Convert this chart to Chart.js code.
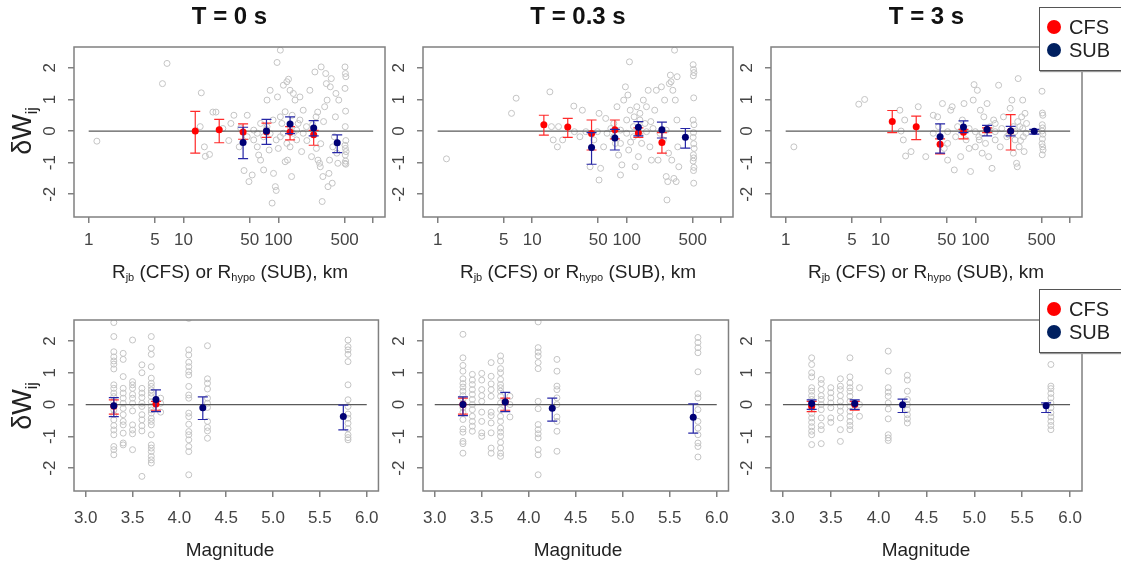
<!DOCTYPE html>
<html>
<head>
<meta charset="utf-8">
<script src="https://cdn.jsdelivr.net/npm/chart.js@4.4.1/dist/chart.umd.min.js"></script>
<style>
  body { margin: 0; background: #fff; width: 1121px; height: 568px; overflow: hidden; position: relative;
         font-family: "Liberation Sans", Arial, sans-serif; }
  canvas { position: absolute; }
  .lbl { position: absolute; color: #222; font-size: 19px; white-space: nowrap; transform: translate(-50%, -50%); }
  .ylab { font-size: 27px; transform: translate(-50%, -50%) rotate(-90deg); }
  .lbl sub { font-size: 58%; vertical-align: -0.35em; }
  .legend { position: absolute; left: 1039px; width: 100px; height: 62px; background: #fff;
            border: 1.5px solid #555; box-shadow: 1px 1px 1px #999; }
  .legend div { position: absolute; left: 29px; font-size: 20px; color: #222; line-height: 20px; }
  .legend span { position: absolute; left: -22px; top: 3px; width: 14px; height: 14px; border-radius: 50%; }
</style>
</head>
<body>
<canvas id="p1"></canvas><canvas id="p2"></canvas><canvas id="p3"></canvas>
<canvas id="p4"></canvas><canvas id="p5"></canvas><canvas id="p6"></canvas>

<div class="lbl" style="left:230px;top:272px">R<sub>jb</sub> (CFS) or R<sub>hypo</sub> (SUB), km</div>
<div class="lbl" style="left:578px;top:272px">R<sub>jb</sub> (CFS) or R<sub>hypo</sub> (SUB), km</div>
<div class="lbl" style="left:926px;top:272px">R<sub>jb</sub> (CFS) or R<sub>hypo</sub> (SUB), km</div>
<div class="lbl" style="left:230px;top:550px">Magnitude</div>
<div class="lbl" style="left:578px;top:550px">Magnitude</div>
<div class="lbl" style="left:926px;top:550px">Magnitude</div>
<div class="lbl ylab" style="left:24px;top:131px">&delta;W<sub>ij</sub></div>
<div class="lbl ylab" style="left:24px;top:406px">&delta;W<sub>ij</sub></div>

<div class="legend" style="top:7px">
  <div style="top:9px"><span style="background:#ff0000"></span>CFS</div>
  <div style="top:32px"><span style="background:#002060"></span>SUB</div>
</div>
<div class="legend" style="top:289px">
  <div style="top:9px"><span style="background:#ff0000"></span>CFS</div>
  <div style="top:32px"><span style="background:#002060"></span>SUB</div>
</div>

<script>
// ---------------------------------------------------------------------------
// data
// ---------------------------------------------------------------------------
const periods = ['T = 0 s', 'T = 0.3 s', 'T = 3 s'];

const distTicks = [1, 5, 10, 50, 100, 500, 1000];
const distTickLabels = ['1', '5', '10', '50', '100', '500', ''];
const magTicks = [3.0, 3.5, 4.0, 4.5, 5.0, 5.5, 6.0];
const residTicks = [-2, -1, 0, 1, 2];

const distBinsCfs = [13.3, 23.8, 42.5, 75, 133, 236];
const distBinsSub = [42.5, 75, 133, 236, 418];
const magBinsCfs = [3.3, 3.75];
const magBinsSub = [3.3, 3.75, 4.25, 5.75];

// bin statistics: [mean, lower, upper]
const cfsDistT0 = [[0.0, -0.70, 0.62], [0.04, -0.37, 0.37], [-0.03, -0.26, 0.23], [-0.02, -0.20, 0.25], [-0.03, -0.28, 0.14], [-0.12, -0.45, 0.02]];
const subDistT0 = [[-0.36, -0.87, 0.12], [0.0, -0.42, 0.37], [0.22, -0.08, 0.45], [0.10, -0.15, 0.33], [-0.37, -0.68, -0.12]];
const cfsDistT03 = [[0.20, -0.13, 0.50], [0.13, -0.20, 0.40], [-0.08, -0.60, 0.35], [0.04, -0.25, 0.35], [-0.06, -0.20, 0.10], [-0.36, -0.70, -0.05]];
const subDistT03 = [[-0.52, -1.05, -0.05], [-0.22, -0.60, 0.05], [0.12, -0.15, 0.30], [0.04, -0.22, 0.28], [-0.20, -0.54, 0.08]];
const cfsDistT3 = [[0.30, -0.05, 0.65], [0.14, -0.27, 0.47], [-0.42, -0.72, -0.25], [-0.04, -0.25, 0.05], [0.05, -0.05, 0.10], [0.0, -0.60, 0.52]];
const subDistT3 = [[-0.18, -0.70, 0.23], [0.13, -0.05, 0.32], [0.05, -0.15, 0.18], [0.0, -0.15, 0.15], [-0.01, -0.10, 0.05]];

const cfsMagT0 = [[-0.05, -0.30, 0.15], [0.02, -0.18, 0.10]];
const subMagT0 = [[-0.04, -0.38, 0.22], [0.16, -0.22, 0.46], [-0.10, -0.47, 0.24], [-0.38, -0.80, -0.02]];
const cfsMagT03 = [[0.0, -0.30, 0.20], [0.08, -0.18, 0.20]];
const subMagT03 = [[0.0, -0.35, 0.24], [0.08, -0.22, 0.38], [-0.12, -0.52, 0.20], [-0.40, -0.90, 0.02]];
const cfsMagT3 = [[-0.05, -0.22, 0.10], [0.0, -0.18, 0.10]];
const subMagT3 = [[0.03, -0.15, 0.15], [0.03, -0.15, 0.15], [-0.01, -0.25, 0.17], [-0.04, -0.25, 0.05]];

// individual residuals vs distance: [km, residual]
const residDistT0 = [
  [1.22,-0.32],[6.0,1.5],[6.7,2.14],[15.4,1.21],[15,0.14],[16.6,-0.5],[17,-0.8],[18.8,-0.74],[20.4,0.6],[22,0.6],
  [26,0.08],[31.6,0.24],[34,0.5],[38.7,-0.5],[43.5,-1.25],[47,0.5],[49,-1.6],[53,-1.39],[55,0.03],[60,-0.5],
  [62,-0.76],[65,-0.92],[70,-1.23],[70,-0.18],[76,0.98],[80,-0.6],[82,1.29],[86,-2.28],[89,-1.34],[93,-1.76],
  [95,-1.88],[97,2.17],[98,1.08],[105,0.45],[109,0.24],[113,1.45],[118,0.61],[123,1.56],[128,1.64],[105,2.56],
  [133,1.29],[133,-0.5],[138,-1.44],[118,-0.97],[125,-0.92],[144,1.19],[150,0.98],[156,-0.28],[162,0.24],[169,1.08],
  [176,-0.65],[183,0.66],[198,0.14],[215,1.29],[224,-0.81],[243,1.87],[250,0.45],[252,-0.55],[262,-0.92],[272,-1.02],
  [277,-1.13],[283,2.03],[290,-2.23],[295,-1.44],[308,0.77],[316,1.82],[321,1.5],[327,0.98],[334,-1.76],[342,-1.34],
  [347,-0.92],[353,1.4],[362,1.66],[370,-1.65],[375,-0.5],[390,-0.18],[400,0.45],[405,1.19],[414,-0.7],[424,-1.02],
  [434,0.98],[505,2.03],[510,1.82],[515,1.72],[505,1.35],[512,0.63],[508,0.14],[515,-0.3],[505,-0.45],[510,-0.55],
  [518,-0.65],[508,-0.76],[512,-0.95],[505,-1.02],[515,-1.05],[75,0.05],[82,-0.08],[95,-0.28],[105,-0.18],[113,-0.07],
  [123,-0.39],[133,0.14],[144,-0.07],[156,0.03],[169,0.35],[183,-0.07],[55,-0.28],[65,0.24],[76,0.14],[60,-0.07],
  [47,-0.18],[40,0.1],[30,-0.3],[88,0.35],[100,-0.55],[140,0.5],[200,-0.3],[230,0.2],[280,-0.4],[300,0.3],[260,0.6]
];
const residDistT03 = [
  [1.24,-0.88],[6.05,0.56],[6.77,1.04],[15.4,1.24],[16,0.14],[16.7,-0.28],[18.5,-0.5],[27.6,0.79],[34,0.66],[37,-0.02],
  [41,-1.13],[51,0.56],[53,-1.18],[51,-1.55],[57,-0.5],[62,-0.07],[68,0.08],[76,-0.39],[79,0.77],[82,-0.76],
  [86,-1.39],[89,-1.07],[93,0.98],[97,1.4],[100,0.35],[103,1.14],[105,-0.6],[109,0.66],[107,2.19],[118,-0.18],
  [120,0.45],[123,-1.13],[128,0.77],[133,-0.81],[138,0.56],[144,-0.39],[150,0.98],[156,0.24],[162,0.77],[169,1.29],
  [176,-0.5],[183,-0.92],[198,0.66],[206,1.29],[215,-0.92],[233,1.4],[243,-0.28],[252,0.98],[262,-1.44],[267,-2.18],
  [272,-1.6],[277,-0.7],[283,1.5],[290,1.77],[295,1.56],[300,-0.92],[308,1.29],[316,-1.5],[321,2.56],[327,0.98],
  [334,-1.6],[342,1.72],[347,-0.5],[356,-1.13],[340,0.35],[505,2.1],[510,1.95],[515,1.85],[508,1.75],[512,1.05],
  [505,0.35],[515,0.2],[510,-0.05],[505,-0.2],[512,-0.4],[518,-0.55],[508,-0.75],[512,-0.85],[505,-0.95],[515,-1.15],
  [510,-1.25],[512,-1.65],[49,-0.02],[73,-0.18],[86,0.03],[100,-0.07],[118,0.14],[138,-0.12],[162,-0.02],[190,0.08],
  [225,-0.07],[262,0.03],[86,-0.39],[138,0.35],[73,0.24],[45,-0.28],[32,-0.18],[28,-0.02],[21,-0.28],[19,0.14],
  [60,0.4],[110,-0.35],[180,0.3]
];
const residDistT3 = [
  [1.22,-0.5],[5.9,0.85],[6.8,1.0],[16,0.66],[16.5,0.0],[17.4,-0.28],[18,0.35],[18.4,-0.79],[21,-0.65],[25,0.77],
  [30,-0.81],[36,0.5],[40,0.45],[45,0.87],[47,-0.55],[51,-0.92],[55,0.66],[57,0.77],[60,-1.23],[65,0.14],
  [70,-0.81],[76,0.87],[80,-0.28],[86,-0.55],[89,-1.28],[95,0.98],[97,1.47],[100,-0.5],[105,1.29],[109,-0.18],
  [113,0.66],[118,-0.7],[123,0.45],[128,-0.39],[133,0.87],[138,-0.81],[144,0.14],[150,-1.18],[156,0.35],[162,-0.28],
  [176,1.45],[183,-0.5],[198,0.45],[215,-0.18],[233,0.72],[243,0.98],[252,-0.7],[262,-0.28],[272,-1.02],[277,-1.13],
  [283,1.66],[290,-0.5],[295,0.14],[308,0.45],[316,0.98],[321,-0.18],[327,-0.65],[334,0.56],[342,-0.07],[347,0.24],
  [505,1.26],[510,0.57],[515,0.5],[508,0.2],[512,0.1],[505,0.0],[515,-0.1],[510,-0.25],[505,-0.4],[512,-0.5],
  [518,-0.6],[508,-0.75],[36,-0.07],[41,0.14],[51,-0.02],[62,-0.18],[73,0.03],[86,0.08],[100,-0.02],[118,-0.07],
  [138,0.03],[162,-0.02],[190,0.08],[225,-0.12],[262,-0.02],[316,0.08],[51,-0.39],[73,0.35],[110,-0.28],[162,0.24],
  [252,0.14],[300,-0.3],[280,0.3]
];

// individual residuals vs magnitude, grouped by event magnitude: [M, [residuals]]
const residMagT0 = [
  [3.3, [2.58,2.14,1.66,1.5,1.37,1.27,1.12,0.62,0.51,0.36,0.25,0.09,-0.03,-0.17,-0.32,-0.48,-0.66,-0.8,-0.95,-1.32,-1.42,-1.58]],
  [3.4, [1.61,1.42,0.88,0.51,0.36,0.2,0.04,-0.12,-0.32,-0.53,-0.64,-0.9,-1.21,-1.27]],
  [3.5, [2.03,0.72,0.62,0.51,0.32,0.2,0.04,-0.2,-0.64,-0.8,-0.92,-1.42]],
  [3.6, [1.25,1.0,0.51,0.36,0.22,0.04,-0.06,-0.32,-0.48,-0.67,-0.83,-2.26]],
  [3.7, [2.14,1.77,1.58,1.19,0.83,0.67,0.57,0.46,0.36,0.25,0.09,-0.06,-0.17,-0.27,-0.43,-0.53,-0.64,-0.95,-1.27,-1.37,-1.48,-1.63,-1.74,-1.84]],
  [3.8, [0.2,0.04,-0.24]],
  [4.1, [2.71,1.72,1.56,1.33,1.19,1.04,0.93,0.57,0.3,0.2,-0.27,-0.38,-0.62,-0.85,-0.95,-1.11,-1.32,-1.48,-2.21]],
  [4.3, [1.85,0.81,0.67,0.49,0.2,0.04,-0.09,-0.53,-0.72,-0.83,-1.06]],
  [5.8, [2.03,1.82,1.72,1.58,1.35,0.62,0.15,-0.06,-0.3,-0.43,-0.59,-0.76,-0.95,-1.04,-1.11]]
];
const residMagT03 = [
  [3.3, [2.21,1.47,1.23,1.05,0.81,0.66,0.55,0.42,0.28,0.16,0.05,-0.1,-0.24,-0.47,-0.77,-0.87,-1.16,-1.23,-1.53]],
  [3.4, [0.95,0.77,0.63,0.47,0.32,0.16,0.0,-0.16,-0.37,-0.53,-0.68,-0.84]],
  [3.5, [0.98,0.77,0.47,0.28,0.1,-0.24,-0.53,-0.89,-1.0]],
  [3.6, [1.32,0.89,0.65,0.47,0.26,-0.24,-0.35,-0.58,-0.89,-1.37,-1.53]],
  [3.7, [1.53,1.37,1.13,1.0,0.79,0.63,0.53,0.42,0.26,0.05,-0.16,-0.37,-0.53,-0.74,-0.87,-1.0,-1.19,-1.37,-1.53,-1.63]],
  [3.8, [0.26,0.0,-0.39]],
  [4.1, [2.6,1.79,1.65,1.53,1.32,1.13,0.1,-0.13,-0.63,-0.79,-0.92,-1.05,-1.42,-1.58,-2.21]],
  [4.3, [1.42,1.05,0.58,0.47,0.21,0.0,-0.39,-0.53,-0.84,-1.47]],
  [5.8, [2.11,1.95,1.79,1.63,1.03,0.34,0.21,-0.16,-0.53,-0.74,-0.95,-1.21,-1.32,-1.65]]
];
const residMagT3 = [
  [3.3, [1.47,1.26,1.0,0.87,0.53,0.42,0.28,0.16,0.03,-0.14,-0.28,-0.42,-0.56,-0.7,-0.84,-0.95,-1.26]],
  [3.4, [0.79,0.66,0.47,0.28,0.16,0.0,-0.16,-0.42,-0.66,-0.79,-1.23]],
  [3.5, [0.53,0.37,0.21,0.05,-0.1,-0.42,-0.56]],
  [3.6, [0.81,0.58,0.47,0.28,0.1,-0.05,-0.21,-0.42,-0.79,-1.16]],
  [3.7, [1.47,0.87,0.68,0.53,0.42,0.26,0.1,-0.05,-0.21,-0.37,-0.53,-0.66,-0.79]],
  [3.8, [0.53,0.0,-0.37]],
  [4.1, [1.68,1.05,0.53,0.39,0.26,0.05,-0.14,-0.45,-0.95,-1.05,-1.13]],
  [4.3, [0.92,0.77,0.42,0.16,0.0,-0.16,-0.32,-0.45,-0.58]],
  [5.8, [1.26,0.58,0.5,0.35,0.21,0.05,-0.1,-0.26,-0.39,-0.53,-0.66,-0.79]]
];

// ---------------------------------------------------------------------------
// drawing helpers
// ---------------------------------------------------------------------------
const FONT = '"Liberation Sans", Arial, sans-serif';
const RED = '#ff0000';
const NAVY = '#000075';

// vertical bars with caps for the bin statistics
const errorBars = {
    id: 'errorBars',
    beforeDatasetDraw(chart, args) {
        const ds = chart.data.datasets[args.index];
        if (!ds.errLo) return;
        const { ctx, scales: { x, y } } = chart;
        ctx.save();
        ctx.strokeStyle = ds.errColor;
        ctx.lineWidth = 1.2;
        ds.data.forEach((p, i) => {
            const px = x.getPixelForValue(p.x);
            const lo = y.getPixelForValue(ds.errLo[i]);
            const hi = y.getPixelForValue(ds.errHi[i]);
            ctx.beginPath();
            ctx.moveTo(px, lo); ctx.lineTo(px, hi);
            ctx.moveTo(px - 5, lo); ctx.lineTo(px + 5, lo);
            ctx.moveTo(px - 5, hi); ctx.lineTo(px + 5, hi);
            ctx.stroke();
        });
        ctx.restore();
    }
};

// R-style box around the plotting region
const plotBox = {
    id: 'plotBox',
    afterDatasetsDraw(chart) {
        const { ctx, chartArea: a } = chart;
        ctx.save();
        ctx.strokeStyle = '#808080';
        ctx.lineWidth = 1.5;
        ctx.strokeRect(a.left, a.top, a.right - a.left, a.bottom - a.top);
        ctx.restore();
    }
};

function statDataset(bins, stats, color, errColor) {
    return {
        type: 'scatter',
        data: bins.map((b, i) => ({ x: b, y: stats[i][0] })),
        errLo: stats.map(s => s[1]),
        errHi: stats.map(s => s[2]),
        errColor: errColor,
        pointRadius: 3.5,
        pointBackgroundColor: color,
        pointBorderColor: color,
        pointBorderWidth: 0
    };
}

function makePanel(cfg) {
    const canvas = document.getElementById(cfg.id);
    canvas.width = cfg.w; canvas.height = cfg.h;
    canvas.style.left = cfg.left + 'px';
    canvas.style.top = cfg.top + 'px';

    const isDist = cfg.kind === 'dist';
    const tickVals = isDist ? distTicks : magTicks;

    const datasets = [
        statDataset(cfg.subBins, cfg.sub, NAVY, '#2626a6'),
        statDataset(cfg.cfsBins, cfg.cfs, RED, '#ff2a2a'),
        {
            type: 'line',
            data: isDist ? [{ x: 1, y: 0 }, { x: 1000, y: 0 }] : [{ x: 3, y: 0 }, { x: 6, y: 0 }],
            borderColor: '#5a5a5a',
            borderWidth: 1.3,
            pointRadius: 0
        },
        {
            type: 'scatter',
            data: cfg.points.map(p => ({ x: p[0], y: p[1] })),
            pointRadius: 3,
            pointBackgroundColor: 'rgba(0,0,0,0)',
            pointBorderColor: '#c4c4c4',
            pointBorderWidth: 1
        }
    ];

    const tickFont = { family: FONT, size: 17 };

    return new Chart(canvas.getContext('2d'), {
        type: 'scatter',
        data: { datasets },
        plugins: [errorBars, plotBox],
        options: {
            responsive: false,
            animation: false,
            devicePixelRatio: 1,
            layout: { padding: { left: 0, right: cfg.padR, top: cfg.padT, bottom: 0 } },
            plugins: {
                legend: { display: false },
                tooltip: { enabled: false },
                title: {
                    display: !!cfg.title,
                    text: cfg.title,
                    fullSize: false,
                    color: '#111',
                    font: { family: FONT, size: 24, weight: 'bold' },
                    padding: { top: 3, bottom: 15.2 }
                }
            },
            scales: {
                x: {
                    type: isDist ? 'logarithmic' : 'linear',
                    min: isDist ? Math.pow(10, -0.125) : 2.875,
                    max: isDist ? Math.pow(10, 3.125) : 6.125,
                    afterBuildTicks: s => { s.ticks = tickVals.map(v => ({ value: v })); },
                    afterFit: s => { s.height = cfg.xH; },
                    grid: { drawOnChartArea: false, drawTicks: true, tickLength: 6, color: '#808080', lineWidth: 1.5 },
                    border: { display: false },
                    ticks: {
                        autoSkip: false, maxRotation: 0, padding: cfg.xPad, color: '#444', font: tickFont,
                        callback: (v, i) => isDist ? distTickLabels[i] : magTicks[i].toFixed(1)
                    }
                },
                y: {
                    type: 'linear',
                    min: -2.72,
                    max: 2.66,
                    afterBuildTicks: s => { s.ticks = residTicks.map(v => ({ value: v })); },
                    afterFit: s => { s.width = cfg.yW; },
                    grid: { drawOnChartArea: false, drawTicks: true, tickLength: 6, color: '#808080', lineWidth: 1.5 },
                    border: { display: false },
                    ticks: {
                        minRotation: 90, maxRotation: 90, crossAlign: 'center', padding: 10,
                        color: '#444', font: tickFont,
                        callback: v => String(v)
                    }
                }
            }
        }
    });
}

const cols = [
    { left: 0, w: 390, yW: 74, padR: 4 },
    { left: 390, w: 350, yW: 33, padR: 7 },
    { left: 740, w: 381, yW: 31, padR: 39 }
];
const topRow = { top: 0, h: 290, padT: 0, xH: 73, xPad: 7 };
const bottomRow = { top: 290, h: 278, padT: 30, xH: 77, xPad: 11 };

const distPoints = [residDistT0, residDistT03, residDistT3];
const distCfs = [cfsDistT0, cfsDistT03, cfsDistT3];
const distSub = [subDistT0, subDistT03, subDistT3];
const magPoints = [residMagT0, residMagT03, residMagT3].map(groups =>
    groups.flatMap(g => g[1].map(r => [g[0], r])));
const magCfs = [cfsMagT0, cfsMagT03, cfsMagT3];
const magSub = [subMagT0, subMagT03, subMagT3];

cols.forEach((c, i) => {
    makePanel(Object.assign({}, c, topRow, {
        id: 'p' + (i + 1), kind: 'dist', title: periods[i],
        points: distPoints[i], cfsBins: distBinsCfs, cfs: distCfs[i], subBins: distBinsSub, sub: distSub[i]
    }));
    makePanel(Object.assign({}, c, bottomRow, {
        id: 'p' + (i + 4), kind: 'mag', title: '',
        points: magPoints[i], cfsBins: magBinsCfs, cfs: magCfs[i], subBins: magBinsSub, sub: magSub[i]
    }));
});
</script>
</body>
</html>
